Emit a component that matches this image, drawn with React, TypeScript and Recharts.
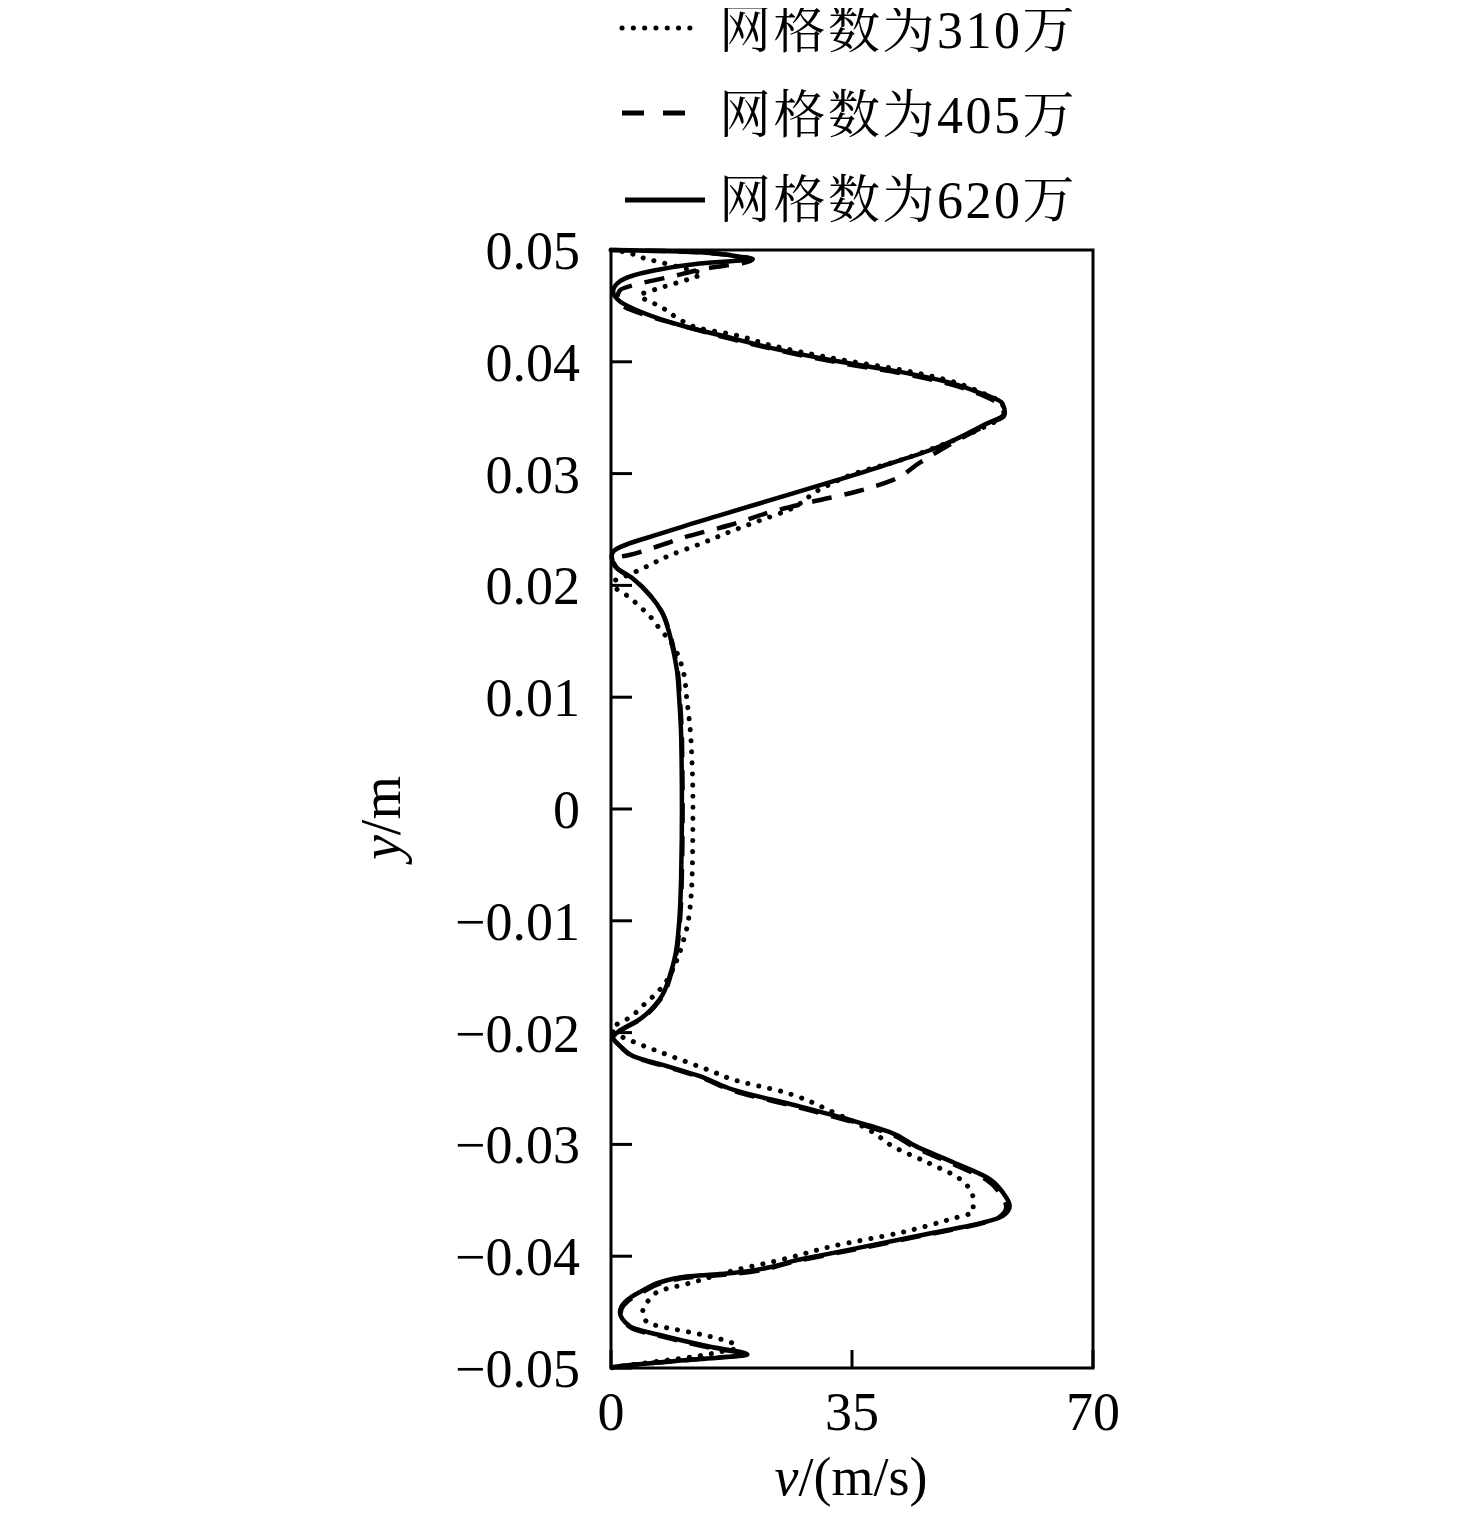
import React from 'react';
import { ScatterChart, Scatter, XAxis, YAxis, ReferenceArea, Legend } from 'recharts';

// ---- data: v (m/s) against y (m) ----
const mesh310 = [
  { v: 0, y: 0.05 }, { v: 1.3, y: 0.0499 }, { v: 4.6, y: 0.0493 }, { v: 7.8, y: 0.0488 },
  { v: 11.5, y: 0.0482 }, { v: 13.2, y: 0.0479 }, { v: 11.3, y: 0.0474 }, { v: 7.1, y: 0.0466 },
  { v: 4.2, y: 0.0459 }, { v: 6.0, y: 0.0453 }, { v: 7.8, y: 0.0447 }, { v: 9.7, y: 0.0439 },
  { v: 12.9, y: 0.043 }, { v: 18.0, y: 0.0424 }, { v: 23.1, y: 0.0415 }, { v: 33.3, y: 0.0402 },
  { v: 42.0, y: 0.0393 }, { v: 49.2, y: 0.0383 }, { v: 53.6, y: 0.0373 }, { v: 56.9, y: 0.0361 },
  { v: 56.9, y: 0.0352 }, { v: 54.3, y: 0.0342 }, { v: 47.8, y: 0.0325 }, { v: 42.0, y: 0.0312 },
  { v: 35.4, y: 0.03 }, { v: 30.4, y: 0.0286 }, { v: 25.6, y: 0.0267 }, { v: 21.6, y: 0.0258 },
  { v: 17.7, y: 0.0249 }, { v: 12.9, y: 0.0237 }, { v: 8.6, y: 0.0227 }, { v: 5.2, y: 0.0217 },
  { v: 2.8, y: 0.021 }, { v: 0.4, y: 0.0203 }, { v: 0.8, y: 0.0197 }, { v: 2.3, y: 0.0191 },
  { v: 4.2, y: 0.0181 }, { v: 5.7, y: 0.0172 }, { v: 7.1, y: 0.0161 }, { v: 8.6, y: 0.015 },
  { v: 10.5, y: 0.0123 }, { v: 11.0, y: 0.0099 }, { v: 11.6, y: 0.0063 }, { v: 11.9, y: 0.0 },
  { v: 11.8, y: -0.0056 }, { v: 11.2, y: -0.0101 }, { v: 10.6, y: -0.0116 }, { v: 9.3, y: -0.0139 },
  { v: 7.6, y: -0.0158 }, { v: 4.6, y: -0.0176 }, { v: 2.3, y: -0.0188 }, { v: 1.0, y: -0.0192 },
  { v: 0.1, y: -0.0197 }, { v: 3.2, y: -0.0208 }, { v: 6.1, y: -0.0215 }, { v: 10.0, y: -0.0224 },
  { v: 14.8, y: -0.0235 }, { v: 17.7, y: -0.0242 }, { v: 25.0, y: -0.0253 }, { v: 32.2, y: -0.0271 },
  { v: 38.0, y: -0.0289 }, { v: 41.0, y: -0.0302 }, { v: 45.9, y: -0.0316 }, { v: 50.7, y: -0.0331 },
  { v: 52.1, y: -0.034 }, { v: 52.6, y: -0.0349 }, { v: 52.6, y: -0.036 }, { v: 49.2, y: -0.0367 },
  { v: 42.0, y: -0.0379 }, { v: 32.2, y: -0.0391 }, { v: 25.5, y: -0.0402 }, { v: 17.7, y: -0.0413 },
  { v: 11.5, y: -0.0424 }, { v: 7.1, y: -0.0431 }, { v: 5.7, y: -0.0438 }, { v: 4.6, y: -0.045 },
  { v: 5.2, y: -0.0459 }, { v: 8.1, y: -0.0464 }, { v: 11.5, y: -0.0468 }, { v: 15.8, y: -0.0474 },
  { v: 17.7, y: -0.0478 }, { v: 18.2, y: -0.0482 }, { v: 15.5, y: -0.0486 }, { v: 12.9, y: -0.0489 },
  { v: 8.1, y: -0.0493 }, { v: 3.2, y: -0.0497 }, { v: 0, y: -0.05 },
];

const mesh405 = [
  { v: 0.2, y: 0.05 }, { v: 12.9, y: 0.0498 }, { v: 20.5, y: 0.0491 }, { v: 13.4, y: 0.0483 },
  { v: 8.6, y: 0.0476 }, { v: 4.2, y: 0.047 }, { v: 1.3, y: 0.0464 }, { v: 0.9, y: 0.0457 },
  { v: 2.0, y: 0.0449 }, { v: 4.9, y: 0.0442 }, { v: 10.5, y: 0.0432 }, { v: 17.7, y: 0.042 },
  { v: 24.5, y: 0.041 }, { v: 33.3, y: 0.0399 }, { v: 42.0, y: 0.039 }, { v: 49.2, y: 0.038 },
  { v: 53.6, y: 0.0371 }, { v: 56.5, y: 0.0361 }, { v: 57.1, y: 0.0352 }, { v: 55.0, y: 0.0345 },
  { v: 49.2, y: 0.0326 }, { v: 44.9, y: 0.031 }, { v: 40.8, y: 0.0294 }, { v: 35.7, y: 0.0284 },
  { v: 29.3, y: 0.0275 }, { v: 23.4, y: 0.0266 }, { v: 17.3, y: 0.0254 }, { v: 11.2, y: 0.0244 },
  { v: 6.8, y: 0.0235 }, { v: 2.5, y: 0.0227 }, { v: 0.3, y: 0.0224 }, { v: 0.8, y: 0.0216 },
  { v: 3.4, y: 0.0205 }, { v: 5.8, y: 0.019 }, { v: 7.5, y: 0.0175 }, { v: 8.4, y: 0.016 },
  { v: 9.1, y: 0.0143 }, { v: 9.7, y: 0.0123 }, { v: 10.0, y: 0.0099 }, { v: 10.3, y: 0.0063 },
  { v: 10.4, y: 0.0 }, { v: 10.3, y: -0.0056 }, { v: 10.0, y: -0.0101 }, { v: 9.4, y: -0.0132 },
  { v: 8.8, y: -0.0146 }, { v: 7.2, y: -0.017 }, { v: 4.3, y: -0.0188 }, { v: 1.0, y: -0.02 },
  { v: 0.4, y: -0.0205 }, { v: 1.5, y: -0.0213 }, { v: 3.5, y: -0.0222 }, { v: 8.3, y: -0.0231 },
  { v: 13.0, y: -0.024 }, { v: 17.8, y: -0.0252 }, { v: 27.3, y: -0.0267 }, { v: 34.5, y: -0.0279 },
  { v: 37.8, y: -0.0285 }, { v: 40.3, y: -0.029 }, { v: 44.2, y: -0.0303 }, { v: 49.5, y: -0.0317 },
  { v: 54.6, y: -0.0332 }, { v: 56.5, y: -0.0344 }, { v: 57.4, y: -0.0356 }, { v: 56.4, y: -0.0365 },
  { v: 53.6, y: -0.0371 }, { v: 46.5, y: -0.038 }, { v: 37.0, y: -0.0392 }, { v: 27.2, y: -0.0404 },
  { v: 17.5, y: -0.0416 }, { v: 10.0, y: -0.042 }, { v: 4.3, y: -0.0433 }, { v: 1.4, y: -0.0451 },
  { v: 2.9, y: -0.0464 }, { v: 8.2, y: -0.0473 }, { v: 14.5, y: -0.0482 }, { v: 19.6, y: -0.0488 },
  { v: 12.8, y: -0.0492 }, { v: 3.3, y: -0.0497 }, { v: 0.3, y: -0.0499 },
];

const mesh620 = [
  { v: 0.2, y: 0.05 }, { v: 12.9, y: 0.0498 }, { v: 18.7, y: 0.0494 }, { v: 20.6, y: 0.0492 },
  { v: 12.9, y: 0.0488 }, { v: 5.7, y: 0.0481 }, { v: 1.3, y: 0.0472 }, { v: 0.3, y: 0.0463 },
  { v: 1.3, y: 0.0454 }, { v: 4.2, y: 0.0445 }, { v: 10.5, y: 0.0432 }, { v: 17.7, y: 0.0421 },
  { v: 23.5, y: 0.0412 }, { v: 33.3, y: 0.04 }, { v: 42.0, y: 0.0391 }, { v: 48.8, y: 0.0382 },
  { v: 53.2, y: 0.0373 }, { v: 56.8, y: 0.0363 }, { v: 57.2, y: 0.0354 }, { v: 54.0, y: 0.0343 },
  { v: 46.8, y: 0.0322 }, { v: 39.5, y: 0.0307 }, { v: 32.2, y: 0.0293 }, { v: 24.1, y: 0.0278 },
  { v: 15.4, y: 0.0262 }, { v: 8.1, y: 0.0248 }, { v: 0.3, y: 0.023 }, { v: 0.1, y: 0.0226 },
  { v: 0.6, y: 0.0217 }, { v: 3.2, y: 0.0206 }, { v: 5.7, y: 0.0191 }, { v: 7.4, y: 0.0176 },
  { v: 8.3, y: 0.0161 }, { v: 9.0, y: 0.0143 }, { v: 9.6, y: 0.0123 }, { v: 9.9, y: 0.0099 },
  { v: 10.2, y: 0.0063 }, { v: 10.3, y: 0.0 }, { v: 10.2, y: -0.0056 }, { v: 9.9, y: -0.0101 },
  { v: 9.3, y: -0.0132 }, { v: 8.7, y: -0.0146 }, { v: 7.1, y: -0.017 }, { v: 4.2, y: -0.0188 },
  { v: 0.9, y: -0.02 }, { v: 0.3, y: -0.0204 }, { v: 1.3, y: -0.0212 }, { v: 3.2, y: -0.0221 },
  { v: 8.1, y: -0.023 }, { v: 12.9, y: -0.0239 }, { v: 17.7, y: -0.0251 }, { v: 27.4, y: -0.0266 },
  { v: 34.7, y: -0.0278 }, { v: 38.0, y: -0.0284 }, { v: 40.5, y: -0.0289 }, { v: 44.4, y: -0.0302 },
  { v: 49.7, y: -0.0316 }, { v: 55.0, y: -0.0331 }, { v: 56.9, y: -0.0343 }, { v: 57.9, y: -0.0355 },
  { v: 56.9, y: -0.0364 }, { v: 54.0, y: -0.037 }, { v: 46.8, y: -0.0379 }, { v: 37.2, y: -0.0391 },
  { v: 27.4, y: -0.0403 }, { v: 17.7, y: -0.0415 }, { v: 10.0, y: -0.0419 }, { v: 4.2, y: -0.0432 },
  { v: 1.3, y: -0.045 }, { v: 2.8, y: -0.0463 }, { v: 8.1, y: -0.0472 }, { v: 14.4, y: -0.0481 },
  { v: 19.8, y: -0.0488 }, { v: 12.9, y: -0.0492 }, { v: 3.2, y: -0.0497 }, { v: 0.3, y: -0.0499 },
];

const xTicks = [0, 35, 70];
const xTickLabels = ['0', '35', '70'];
const yTicks = [0.05, 0.04, 0.03, 0.02, 0.01, 0, -0.01, -0.02, -0.03, -0.04, -0.05];
const yTickLabels = ['0.05', '0.04', '0.03', '0.02', '0.01', '0', '\u22120.01', '\u22120.02', '\u22120.03', '\u22120.04', '\u22120.05'];
const seriesNames = ['网格数为310万', '网格数为405万', '网格数为620万'];

// ---- layout ----
const W = 1460;
const H = 1500;
const PLOT_LEFT = 603;
const PLOT_TOP = 242;
const PLOT_RIGHT = 1085;
const PLOT_BOTTOM = 1360;
const Y_AXIS_W = 60;
const X_AXIS_H = 30;
const FONT = "'Liberation Serif', 'Times New Roman', 'Noto Serif CJK SC', 'Noto Sans CJK SC', serif";
const INK = '#000';

const YTick = (props: any) => {
  const { x, y, index } = props;
  return (
    <g>
      <line x1={x} y1={y} x2={x + 21} y2={y} stroke={INK} strokeWidth={3} />
      <text x={x - 31} y={y} dy="0.35em" textAnchor="end" fontSize={54} fontFamily={FONT} fill={INK}>
        {yTickLabels[index]}
      </text>
    </g>
  );
};

const XTick = (props: any) => {
  const { x, y, index } = props;
  return (
    <g>
      <line x1={x} y1={y} x2={x} y2={y - 18} stroke={INK} strokeWidth={3} />
      <text x={x} y={y + 62} textAnchor="middle" fontSize={54} fontFamily={FONT} fill={INK}>
        {xTickLabels[index]}
      </text>
    </g>
  );
};

const NoShape = () => <g />;

const LegendContent = () => (
  <svg width={W} height={232} style={{ display: 'block', overflow: 'visible' }}>
    <line x1={614} y1={20} x2={690} y2={20} stroke={INK} strokeWidth={5} strokeDasharray="0.1 11.2" strokeLinecap="round" />
    <line x1={614} y1={105} x2={680} y2={105} stroke={INK} strokeWidth={5} strokeDasharray="22 19" />
    <line x1={617} y1={192} x2={697} y2={192} stroke={INK} strokeWidth={5} />
    {seriesNames.map((n, i) => (
      <text key={n} x={711} y={40 + i * 85} fontSize={52} letterSpacing={2.5} fontFamily={FONT} fill={INK}>
        {n}
      </text>
    ))}
  </svg>
);

export default function App() {
  return (
    <div style={{ width: W, height: H, background: '#fff', position: 'relative' }}>
      <ScatterChart
        width={W}
        height={H}
        margin={{ top: PLOT_TOP, left: PLOT_LEFT - Y_AXIS_W, right: W - PLOT_RIGHT, bottom: H - PLOT_BOTTOM - X_AXIS_H }}
      >
        <XAxis
          type="number"
          dataKey="v"
          domain={[0, 70]}
          ticks={xTicks}
          interval={0}
          height={X_AXIS_H}
          tickSize={0}
          tickMargin={0}
          tickLine={false}
          axisLine={false}
          tick={<XTick />}
          label={{
            content: () => (
              <text x={843} y={1487} textAnchor="middle" fontSize={54} fontFamily={FONT} fill={INK}>
                <tspan fontStyle="italic">v</tspan>/(m/s)
              </text>
            ),
          }}
        />
        <YAxis
          type="number"
          dataKey="y"
          domain={[-0.05, 0.05]}
          ticks={yTicks}
          interval={0}
          width={Y_AXIS_W}
          tickSize={0}
          tickMargin={0}
          tickLine={false}
          axisLine={false}
          tick={<YTick />}
          label={{
            content: () => (
              <text x={392} y={810} transform="rotate(-90 392 810)" textAnchor="middle" fontSize={56} fontFamily={FONT} fill={INK}>
                <tspan fontStyle="italic">y</tspan>/m
              </text>
            ),
          }}
        />
        <Legend
          layout="horizontal"
          verticalAlign="middle"
          align="center"
          content={<LegendContent />}
          wrapperStyle={{ position: 'absolute', top: 0, left: 0, width: W, height: 232 }}
        />
        <Scatter
          name={seriesNames[0]}
          data={mesh310}
          shape={<NoShape />}
          line={{ stroke: INK, strokeWidth: 5, strokeDasharray: '0.1 11', strokeLinecap: 'round', fill: 'none' }}
          lineJointType="monotoneY"
          isAnimationActive={false}
        />
        <Scatter
          name={seriesNames[1]}
          data={mesh405}
          shape={<NoShape />}
          line={{ stroke: INK, strokeWidth: 4.5, strokeDasharray: '20 13', fill: 'none' }}
          lineJointType="monotoneY"
          isAnimationActive={false}
        />
        <Scatter
          name={seriesNames[2]}
          data={mesh620}
          shape={<NoShape />}
          line={{ stroke: INK, strokeWidth: 4.5, fill: 'none' }}
          lineJointType="monotoneY"
          isAnimationActive={false}
        />
        <ReferenceArea x1={0} x2={70} y1={-0.05} y2={0.05} fill="none" fillOpacity={0} stroke={INK} strokeWidth={3} ifOverflow="visible" />
      </ScatterChart>
    </div>
  );
}
